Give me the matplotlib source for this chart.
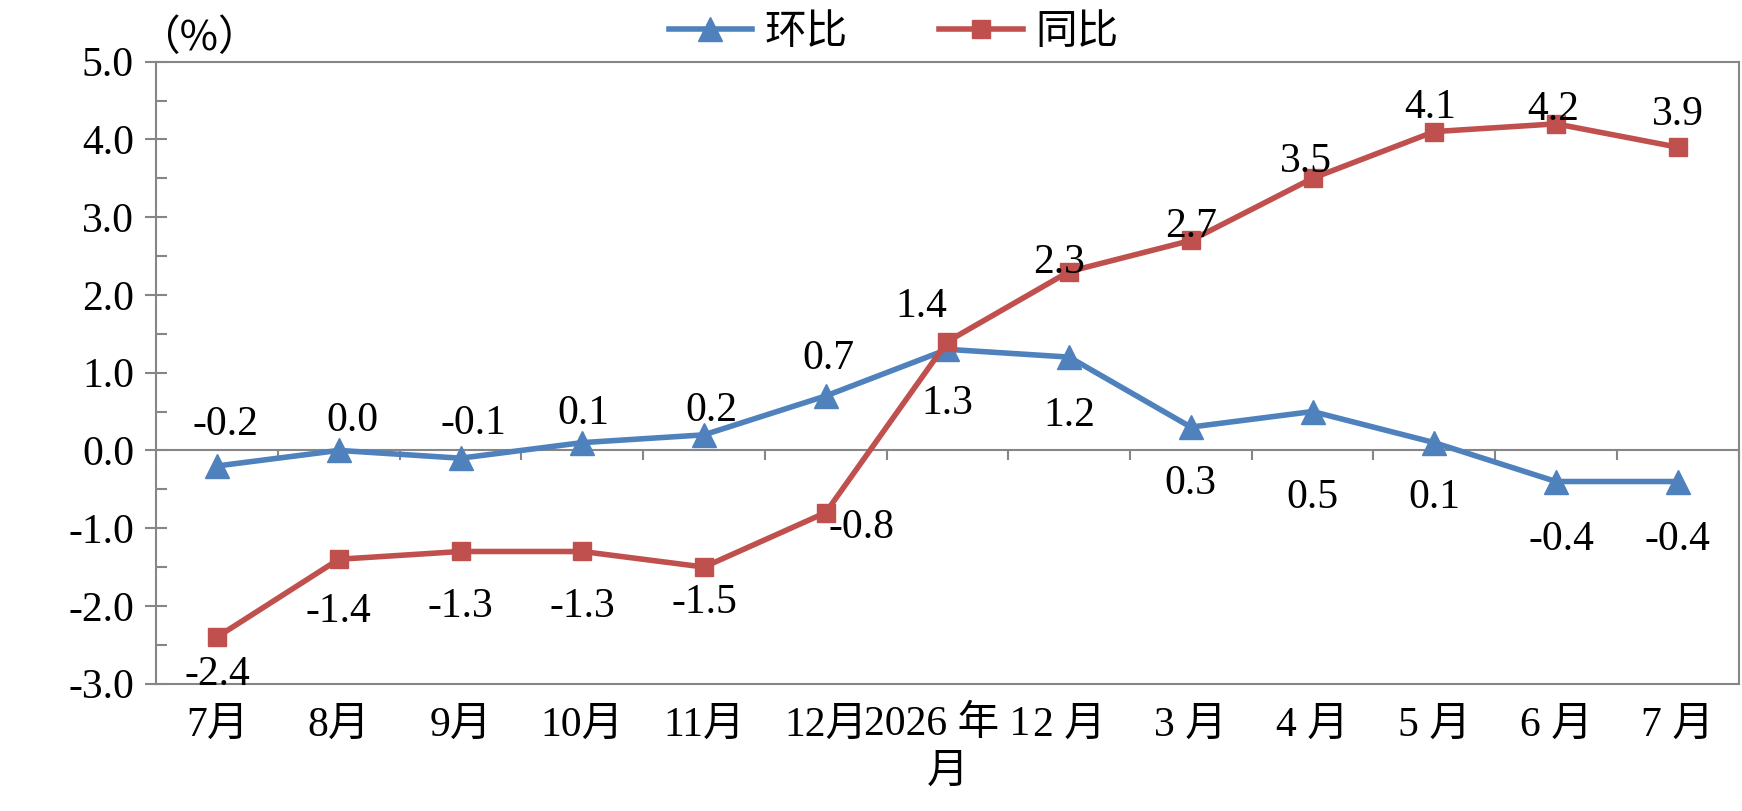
import matplotlib
matplotlib.use('Agg')
import matplotlib.pyplot as plt
from matplotlib.ticker import MultipleLocator, FormatStrFormatter
from matplotlib.lines import Line2D

plt.rcParams['font.family'] = ['Liberation Serif', 'Noto Sans CJK SC']
plt.rcParams['axes.unicode_minus'] = False

# ── data ──────────────────────────────────────────────────────────────────────
months = ['7月', '8月', '9月', '10月', '11月', '12月', '2026 年 1\n月',
          '2 月', '3 月', '4 月', '5 月', '6 月', '7 月']
mom = [-0.2, 0.0, -0.1, 0.1, 0.2, 0.7, 1.3, 1.2, 0.3, 0.5, 0.1, -0.4, -0.4]   # 环比
yoy = [-2.4, -1.4, -1.3, -1.3, -1.5, -0.8, 1.4, 2.3, 2.7, 3.5, 4.1, 4.2, 3.9]  # 同比

# label offsets in points (dx, dy)
mom_off = [(6, 30), (10, 21), (9, 25), (1, 21), (5, 17), (2, 27), (0, -39),
           (0, -42), (0, -41), (0, -62), (0, -40), (4, -42), (0, -42)]
yoy_off = [(0, -27), (0, -38), (0, -40), (0, -40), (0, -26), (26, -11), (-19, 25),
           (-7, 6), (0, 10), (-5, 12), (-3, 17), (-2, 10), (0, 23)]

BLUE = '#4F81BD'
RED = '#C0504D'
GRAY = '#868686'
FS = 30

fig = plt.figure(figsize=(17.42, 8.11), dpi=100)
ax = fig.add_axes([0.0897, 0.157, 0.9083, 0.767])

x = list(range(len(months)))
ax.plot(x, mom, color=BLUE, lw=4, marker='^', ms=17, zorder=3, label='环比')
ax.plot(x, yoy, color=RED, lw=4, marker='s', ms=13, zorder=3, label='同比')

for xi, v, (dx, dy) in zip(x, mom, mom_off):
    ax.annotate(f'{v:.1f}', (xi, v), xytext=(dx, dy), textcoords='offset points',
                ha='center', va='center', fontsize=FS, zorder=5)
for xi, v, (dx, dy) in zip(x, yoy, yoy_off):
    ax.annotate(f'{v:.1f}', (xi, v), xytext=(dx, dy), textcoords='offset points',
                ha='center', va='center', fontsize=FS, zorder=5)

ax.set_xlim(-0.5, len(months) - 0.5)
ax.set_ylim(-3, 5)
ax.yaxis.set_major_locator(MultipleLocator(1))
ax.yaxis.set_minor_locator(MultipleLocator(0.5))
ax.yaxis.set_major_formatter(FormatStrFormatter('%.1f'))
ax.tick_params(axis='y', which='major', direction='inout', length=16, width=1.5,
               color=GRAY, labelsize=FS, pad=8)
ax.tick_params(axis='y', which='minor', direction='in', length=8, width=1.5, color=GRAY)

ax.set_xticks(x)
ax.set_xticklabels(months, linespacing=1.3)
ax.tick_params(axis='x', length=0, labelsize=FS, pad=16)

for sp in ax.spines.values():
    sp.set_color(GRAY)
    sp.set_linewidth(1.5)

# zero line with category-boundary ticks
zero = ax.secondary_xaxis(3 / 8)
zero.set_xticks([i - 0.5 for i in range(len(months) + 1)])
zero.set_xticklabels([])
zero.tick_params(direction='out', length=7, width=1.5, color=GRAY)
zero.spines['bottom'].set_color(GRAY)
zero.spines['bottom'].set_linewidth(1.5)

fig.text(0.114, 0.952, '（%）', fontsize=FS, ha='center', va='center',
         family=['Noto Sans CJK SC'])

handles = [Line2D([], [], color=BLUE, lw=4, marker='^', ms=17),
           Line2D([], [], color=RED, lw=4, marker='s', ms=13)]
fig.legend(handles, ['环比', '同比'], loc='center', bbox_to_anchor=(0.513, 0.959),
           ncol=2, frameon=False, fontsize=FS, handlelength=2.0, columnspacing=2.2,
           handletextpad=0.3)

fig.savefig('out.png', dpi=100, facecolor='white')
